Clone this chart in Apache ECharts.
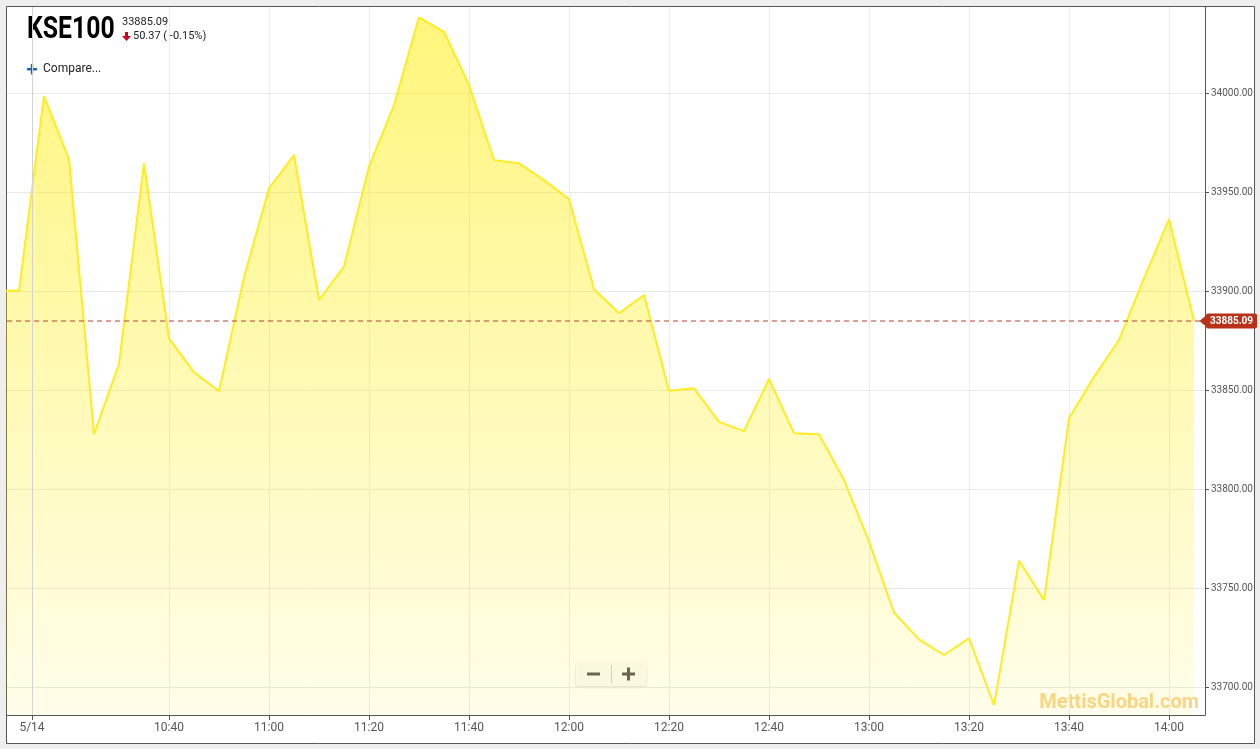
<!DOCTYPE html>
<html>
<head>
<meta charset="utf-8">
<script src="https://cdn.jsdelivr.net/npm/echarts@6/dist/echarts.min.js"></script>
<style>
  html, body { margin: 0; padding: 0; background: #eeeeee; }
  #chart { width: 1260px; height: 749px; }
</style>
</head>
<body>
<div id="chart"></div>
<script>
// ---- Data ----
const times = ['10:05','10:10','10:15','10:20','10:25','10:30','10:35','10:40','10:45','10:50','10:55',
  '11:00','11:05','11:10','11:15','11:20','11:25','11:30','11:35','11:40','11:45','11:50','11:55',
  '12:00','12:05','12:10','12:15','12:20','12:25','12:30','12:35','12:40','12:45','12:50','12:55',
  '13:00','13:05','13:10','13:15','13:20','13:25','13:30','13:35','13:40','13:45','13:50','13:55',
  '14:00','14:05'];
const values = [33900.4,33900.4,33998.6,33966.7,33828.0,33863.3,33964.7,33876.3,33859.2,33849.7,33907.0,
  33952.0,33968.9,33895.7,33912.5,33963.0,33994.0,34038.4,34031.1,34004.2,33966.3,33964.7,33956.2,
  33946.6,33901.1,33889.0,33898.2,33849.9,33851.1,33834.2,33829.5,33855.8,33828.4,33827.9,33804.8,
  33773.7,33737.8,33724.4,33716.5,33724.9,33691.2,33764.1,33744.2,33835.9,33856.9,33875.5,33906.6,
  33936.4,33885.09];
const xTickLabels = ['5/14','10:40','11:00','11:20','11:40','12:00','12:20','12:40','13:00','13:20','13:40','14:00'];
const dayStartTime = '10:12.6';
const yTickValues = [33700, 33750, 33800, 33850, 33900, 33950, 34000];
const lastPrice = 33885.09;
const changeText = '50.37 ( -0.15%)';
const symbolName = 'KSE100';

function toMin(t) { const p = t.split(':'); return Number(p[0]) * 60 + Number(p[1]); }
const dayStart = toMin(dayStartTime);
const xTickValues = xTickLabels.map(l => l.indexOf('/') >= 0 ? dayStart : toMin(l));
const labelMap = {};
xTickValues.forEach((v, i) => { labelMap[v.toFixed(2)] = xTickLabels[i]; });
const seriesData = times.map((t, i) => [toMin(t), values[i]]);

const X_MIN = 607.6, X_MAX = 847.2;
const Y_MIN = 33686.2, Y_MAX = 34043.6;
const priceLineData = [[X_MIN, lastPrice], [X_MAX, lastPrice]];

const chart = echarts.init(document.getElementById('chart'), null, { renderer: 'canvas' });
const FONT = 'Roboto, "Noto Sans", sans-serif';
const RED = '#b5402c';

chart.setOption({
  animation: false,
  backgroundColor: '#eeeeee',
  grid: { left: 7, right: 55, top: 7, bottom: 34, containLabel: false },
  xAxis: {
    type: 'value', min: X_MIN, max: X_MAX,
    axisLine: { show: true, lineStyle: { color: '#555', width: 1 } },
    axisTick: { show: true, customValues: xTickValues, length: 5, lineStyle: { color: '#555' } },
    axisLabel: { customValues: xTickValues, color: '#555', fontSize: 12, fontFamily: FONT, margin: 7,
      formatter: v => labelMap[Number(v).toFixed(2)] || '' },
    splitLine: { show: true, lineStyle: { color: '#e9e9e9', width: 1 } }
  },
  yAxis: {
    type: 'value', position: 'right', min: Y_MIN, max: Y_MAX,
    axisLine: { show: true, lineStyle: { color: '#555', width: 1 } },
    axisTick: { show: true, customValues: yTickValues, length: 4, lineStyle: { color: '#555' } },
    axisLabel: { customValues: yTickValues, color: '#555', fontSize: 10, fontFamily: FONT, margin: 6,
      formatter: v => Number(v).toFixed(2) },
    splitLine: { show: true, lineStyle: { color: '#e9e9e9', width: 1 } }
  },
  series: [{
    type: 'line',
    data: seriesData,
    symbol: 'none',
    clip: true,
    lineStyle: { color: '#ffec1f', width: 2 },
    areaStyle: {
      origin: 'start',
      color: new echarts.graphic.LinearGradient(0, 0, 0, 1, [
        { offset: 0, color: 'rgba(255,236,0,0.74)' },
        { offset: 1, color: 'rgba(255,236,0,0.12)' }
      ])
    },
    markLine: {
      silent: true,
      symbol: 'none',
      animation: false,
      data: [
        { xAxis: dayStart, lineStyle: { color: '#d2d2d2', width: 1, type: 'solid' }, label: { show: false } }
      ]
    }
  }, {
    type: 'line',
    data: priceLineData,
    symbol: 'none',
    silent: true,
    z: 3,
    color: RED,
    lineStyle: { color: RED, width: 1, type: [5, 4] },
    endLabel: { show: true, distance: 1, formatter: lastPrice.toFixed(2),
      backgroundColor: '#b73219', color: '#fff', fontSize: 10, fontWeight: 'bold', fontFamily: FONT,
      padding: [3, 4, 2, 4], borderRadius: 2 },
    markPoint: {
      silent: true,
      animation: false,
      data: [{ coord: [X_MAX, lastPrice], symbol: 'triangle', symbolRotate: 90, symbolSize: [12, 7],
        symbolOffset: [-2, 0], itemStyle: { color: '#b73219' }, label: { show: false } }]
    }
  }],
  graphic: [
    { type: 'rect', z: -10, silent: true, shape: { x: 6.5, y: 6.5, width: 1248, height: 737 },
      style: { fill: '#ffffff', stroke: '#555', lineWidth: 1 } },
    { type: 'text', x: 27, y: 15, scaleX: 0.8, style: { text: symbolName, font: 'bold 31px Roboto, sans-serif', fill: '#000' } },
    { type: 'text', left: 122, top: 17, style: { text: lastPrice.toFixed(2), font: '11px ' + FONT, fill: '#222' } },
    { type: 'polygon', left: 122, top: 32, shape: { points: [[3, 0], [6, 0], [6, 4], [9, 4], [4.5, 9], [0, 4], [3, 4]] }, style: { fill: '#d0021b' } },
    { type: 'text', left: 133, top: 31, style: { text: changeText, font: '11px ' + FONT, fill: '#222' } },
    { type: 'group', x: 27, y: 64, children: [
      { type: 'rect', shape: { x: 0, y: 4, width: 10, height: 2.4 }, style: { fill: '#1565c0' } },
      { type: 'rect', shape: { x: 3.8, y: 0, width: 2.4, height: 10.4 }, style: { fill: '#1565c0' } }
    ] },
    { type: 'text', left: 43, top: 63, style: { text: 'Compare...', font: '12px ' + FONT, fill: '#222' } },
    { type: 'text', right: 61, top: 693, style: { text: 'MettisGlobal.com', font: 'bold 20px ' + FONT, fill: 'rgba(245,165,30,0.5)' } },
    { type: 'group', left: 576, top: 662, children: [
      { type: 'rect', shape: { x: 0, y: 0, width: 70, height: 24, r: 3 },
        style: { fill: 'rgba(255,255,255,0.85)', shadowBlur: 3, shadowColor: 'rgba(0,0,0,0.2)', shadowOffsetY: 1 } },
      { type: 'rect', shape: { x: 35, y: 3, width: 1, height: 18 }, style: { fill: '#ccc' } },
      { type: 'rect', shape: { x: 11, y: 10.5, width: 13, height: 3 }, style: { fill: '#555' } },
      { type: 'rect', shape: { x: 46, y: 10.5, width: 13, height: 3 }, style: { fill: '#555' } },
      { type: 'rect', shape: { x: 51, y: 5.5, width: 3, height: 13 }, style: { fill: '#555' } }
    ] }
  ]
});
</script>
</body>
</html>
